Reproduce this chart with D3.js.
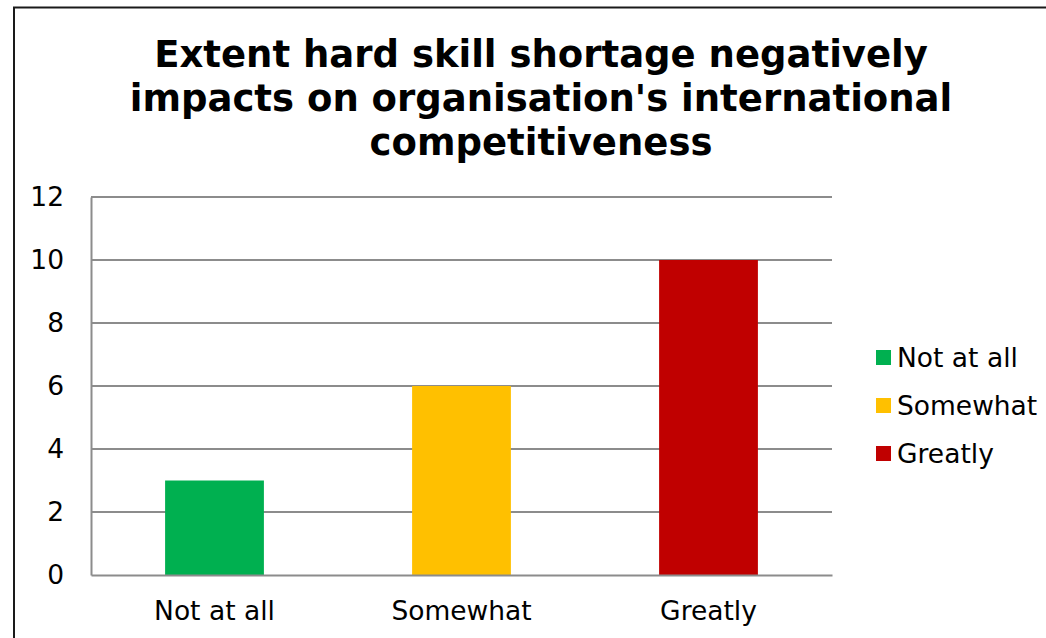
<!DOCTYPE html>
<html>
<head>
<meta charset="utf-8">
<script src="https://cdn.jsdelivr.net/npm/d3@7"></script>
<style>
  body { margin: 0; background: #fff; }
  svg text { font-family: Verdana, "DejaVu Sans", sans-serif; fill: #000; }
</style>
</head>
<body>
<div id="chart"></div>
<script>
// data
var categories = ["Not at all", "Somewhat", "Greatly"];
var values = [3, 6, 10];
var colors = ["#00B050", "#FFC000", "#C00000"];
var yTicks = [0, 2, 4, 6, 8, 10, 12];
var titleLines = ["Extent hard skill shortage negatively",
                  "impacts on organisation's international",
                  "competitiveness"];

var W = 1046, H = 638;
var plot = {left: 91, right: 832, top: 197, bottom: 575};
var fs = 26.5;

var svg = d3.select("#chart").append("svg")
  .attr("width", W).attr("height", H);

// outer chart frame (cut off at right and bottom)
svg.append("path")
  .attr("d", "M14," + H + " V7.5 H" + W)
  .attr("fill", "none")
  .attr("stroke", "#1a1a1a")
  .attr("stroke-width", 2);

// title
svg.append("text")
  .attr("text-anchor", "middle")
  .attr("font-size", 37)
  .attr("font-weight", "bold")
  .selectAll("tspan")
  .data(titleLines)
  .enter().append("tspan")
    .attr("x", 541)
    .attr("y", function(d, i) { return 67 + i * 44; })
    .text(function(d) { return d; });

var x = d3.scaleBand()
  .domain(categories)
  .range([plot.left, plot.right])
  .paddingInner(0.6)
  .paddingOuter(0.3);

var y = d3.scaleLinear()
  .domain([0, 12])
  .range([plot.bottom, plot.top]);

// gridlines
svg.append("g")
  .selectAll("line")
  .data(yTicks.slice(1))
  .enter().append("line")
    .attr("x1", plot.left).attr("x2", plot.right)
    .attr("y1", function(d) { return y(d); })
    .attr("y2", function(d) { return y(d); })
    .attr("stroke", "#8c8c8c")
    .attr("stroke-width", 2);

// bars
svg.append("g")
  .selectAll("rect")
  .data(values)
  .enter().append("rect")
    .attr("x", function(d, i) { return x(categories[i]); })
    .attr("y", function(d) { return y(d); })
    .attr("width", x.bandwidth())
    .attr("height", function(d) { return y(0) - y(d); })
    .attr("fill", function(d, i) { return colors[i]; });

// y axis
var yAxis = svg.append("g")
  .attr("transform", "translate(" + plot.left + ",0)")
  .call(d3.axisLeft(y).tickValues(yTicks).tickSize(0).tickPadding(27));
yAxis.select(".domain").attr("stroke", "#8c8c8c").attr("stroke-width", 2);
yAxis.selectAll("text").attr("font-size", fs).attr("font-family", null);

// x axis
var xAxis = svg.append("g")
  .attr("transform", "translate(0," + plot.bottom + ")")
  .call(d3.axisBottom(x).tickSize(0).tickPadding(0));
xAxis.select(".domain").attr("stroke", "#8c8c8c").attr("stroke-width", 2);
xAxis.selectAll("text").attr("font-size", fs).attr("font-family", null)
  .attr("dy", null).attr("y", 45);

// legend
var legend = svg.append("g")
  .selectAll("g")
  .data(categories)
  .enter().append("g")
    .attr("transform", function(d, i) { return "translate(876," + (350 + i * 48) + ")"; });
legend.append("rect")
  .attr("width", 15).attr("height", 15)
  .attr("fill", function(d, i) { return colors[i]; });
legend.append("text")
  .attr("x", 21).attr("y", 17)
  .attr("font-size", fs)
  .text(function(d) { return d; });
</script>
</body>
</html>
